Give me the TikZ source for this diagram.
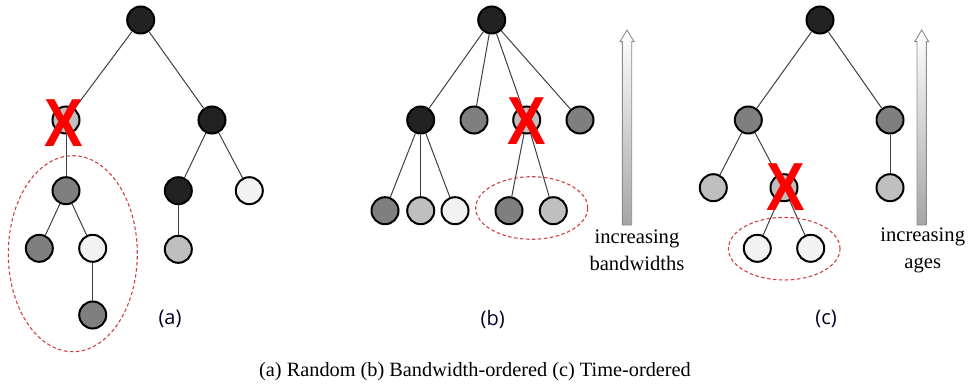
\documentclass[tikz,border=0pt]{standalone}
\usepackage{fontspec}
\setmainfont{Liberation Serif}
\newfontfamily\labfont{Open Sans}
\newfontfamily\xfont{Liberation Sans}
\usetikzlibrary{shapes.geometric}
\definecolor{cdark}{HTML}{222222}
\definecolor{cmid}{HTML}{7F7F7F}
\definecolor{clight}{HTML}{BFBFBF}
\definecolor{cwhite}{HTML}{F2F2F2}
\definecolor{cedge}{HTML}{404040}
\definecolor{xred}{HTML}{FF0000}
\definecolor{ellred}{HTML}{D04040}
\definecolor{arrline}{HTML}{8C8C84}
\tikzset{
  tn/.style={circle, draw=black, line width=2pt, minimum size=27pt, inner sep=0pt},
  dk/.style={tn, fill=cdark},
  md/.style={tn, fill=cmid},
  lt/.style={tn, fill=clight},
  wt/.style={tn, fill=cwhite},
  edge/.style={draw=cedge, line width=1pt},
  grp/.style={draw=ellred, dash pattern=on 3.5pt off 2.5pt, line width=1.1pt, ellipse, inner sep=0pt},
  xmark/.style={text=xred, font=\xfont\bfseries\fontsize{68}{68}\selectfont, inner sep=0pt, xscale=0.85},
  sublab/.style={font=\labfont\fontsize{20}{20}\selectfont, text=black!85!blue, inner sep=0pt},
  axlab/.style={font=\fontsize{20.6}{27}\selectfont, align=center, inner sep=0pt},
  barr/.style={draw=arrline, line width=0.9pt, top color=white, bottom color=black!35, shading angle=0}
}
\begin{document}
\begin{tikzpicture}[x=1pt,y=-1pt]
\useasboundingbox (0,0) rectangle (968,385);
% ---------- (a) ----------
\node[dk] (ar) at (140.7,20) {};
\node[lt] (al) at (66,120) {};
\node[dk] (aR) at (212,120) {};
\node[md] (al1) at (66,190.7) {};
\node[md] (al2) at (39.3,248.3) {};
\node[wt] (al3) at (92.7,248.3) {};
\node[md] (al4) at (92.7,315) {};
\node[dk] (aR1) at (178.3,190.7) {};
\node[wt] (aR2) at (249.3,190.7) {};
\node[lt] (aR3) at (178.3,249.3) {};
\draw[edge] (ar) -- (al);
\draw[edge] (ar) -- (aR);
\draw[edge] (al) -- (al1);
\draw[edge] (al1) -- (al2);
\draw[edge] (al1) -- (al3);
\draw[edge] (al3) -- (al4);
\draw[edge] (aR) -- (aR1);
\draw[edge] (aR) -- (aR2);
\draw[edge] (aR1) -- (aR3);
\node[grp, minimum width=129pt, minimum height=196pt] (ae) at (72.8,253.7) {};
\node[xmark] (ax) at (64,123) {X};
\node[sublab] (alab) at (170,319) {(a)};
% ---------- (b) ----------
\node[dk] (br) at (491.7,20) {};
\node[dk] (b1) at (420.7,120) {};
\node[md] (b2) at (474,120) {};
\node[lt] (b3) at (526.7,120) {};
\node[md] (b4) at (580,120) {};
\node[md] (b11) at (385,210.7) {};
\node[lt] (b12) at (420.7,210.7) {};
\node[wt] (b13) at (455,210.7) {};
\node[md] (b31) at (509,210.7) {};
\node[lt] (b32) at (553.3,210.7) {};
\draw[edge] (br) -- (b1);
\draw[edge] (br) -- (b2);
\draw[edge] (br) -- (b3);
\draw[edge] (br) -- (b4);
\draw[edge] (b1) -- (b11);
\draw[edge] (b1) -- (b12);
\draw[edge] (b1) -- (b13);
\draw[edge] (b3) -- (b31);
\draw[edge] (b3) -- (b32);
\node[grp, minimum width=112pt, minimum height=62.6pt] (be) at (531.7,208) {};
\node[xmark] (bx) at (526.7,121) {X};
\node[sublab] (blab) at (492.7,319) {(b)};
\coordinate (bat) at (627,30);
\coordinate (bab) at (627,225);
\path[barr] (bab) ++(-4.7,0) -- ++(0,-183.3) -- ++(-2.3,0) -- (bat) -- ++(7,11.7) -- ++(-2.3,0) -- ++(0,183.3) -- cycle;
\node[axlab] (btxt) at (637,250) {increasing\\bandwidths};
% ---------- (c) ----------
\node[dk] (cr) at (820,20) {};
\node[md] (c1) at (748.3,120) {};
\node[md] (c2) at (890,120) {};
\node[lt] (c11) at (713.3,187.7) {};
\node[lt] (c12) at (784,187.7) {};
\node[lt] (c21) at (890,187.7) {};
\node[wt] (c121) at (757.3,248.3) {};
\node[wt] (c122) at (810.7,248.3) {};
\draw[edge] (cr) -- (c1);
\draw[edge] (cr) -- (c2);
\draw[edge] (c1) -- (c11);
\draw[edge] (c1) -- (c12);
\draw[edge] (c2) -- (c21);
\draw[edge] (c12) -- (c121);
\draw[edge] (c12) -- (c122);
\node[grp, minimum width=111.6pt, minimum height=62.6pt] (ce) at (784.2,248.7) {};
\node[xmark] (cx) at (785.7,187) {X};
\node[sublab] (clab) at (826,319) {(c)};
\coordinate (cat) at (921.7,30);
\coordinate (cab) at (921.7,225);
\path[barr] (cab) ++(-4.7,0) -- ++(0,-183.3) -- ++(-2.3,0) -- (cat) -- ++(7,11.7) -- ++(-2.3,0) -- ++(0,183.3) -- cycle;
\node[axlab] (ctxt) at (922.7,250) {increasing\\ages};
% ---------- caption ----------
\node[font=\fontsize{20.3}{20.3}\selectfont, inner sep=0pt] (cap) at (475,371.7) {(a) Random (b) Bandwidth-ordered (c) Time-ordered};
\end{tikzpicture}
\end{document}
